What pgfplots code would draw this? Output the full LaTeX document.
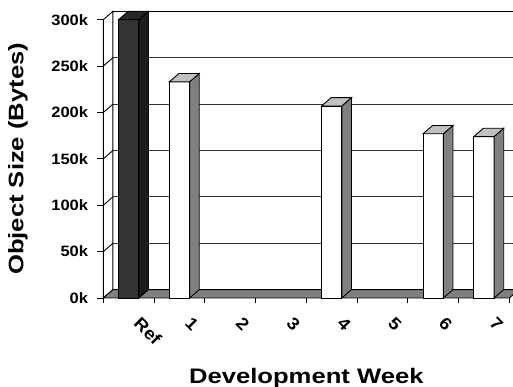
\documentclass[border=0pt]{standalone}
\usepackage{fontspec}
\usepackage{pgfplots}
\usepackage{pgfplotstable}
\pgfplotsset{compat=1.18}

\newfontfamily\tickfont{Liberation Sans}[FakeStretch=1.1]
\newfontfamily\titlefont{Liberation Sans}[FakeStretch=1.22]

\definecolor{refFront}{HTML}{333333}
\definecolor{refSide}{HTML}{1C1C1C}
\definecolor{refTop}{HTML}{262626}
\definecolor{barSide}{HTML}{808080}
\definecolor{barTop}{HTML}{C0C0C0}
\definecolor{floorGray}{HTML}{808080}
\definecolor{gridGray}{HTML}{333333}

% object size per development week, in kilobytes
\pgfplotstableread{
idx week size
0   Ref  300
1   1    233
2   2    0
3   3    0
4   4    207
5   5    0
6   6    177
7   7    174
}\objsizes

% depth of the pseudo-3D box (x in category units, y in kB)
\def\depthx{0.19}
\def\depthy{9}

\begin{document}
\begin{tikzpicture}
\useasboundingbox (0,0) rectangle (513pt,387pt);
\begin{axis}[
  at={(103.3pt,89pt)}, anchor=south west,
  scale only axis, width=406pt, height=278.3pt,
  xmin=0, xmax=8, ymin=0, ymax=300,
  clip=false,
  axis line style={draw=none},
  xtick={0.5,1.5,...,7.5},
  xticklabels={Ref,1,2,3,4,5,6,7},
  minor xtick={0,1,...,8},
  ytick={0,50,...,300},
  yticklabels={0k,50k,100k,150k,200k,250k,300k},
  tick align=outside,
  xtick pos=bottom, ytick pos=left,
  major tick length=6pt, minor tick length=5pt,
  major x tick style={draw=none},
  tick style={black, line width=0.8pt},
  yticklabel style={font=\tickfont\bfseries\fontsize{15}{17}\selectfont,
    inner sep=0pt, xshift=-9pt, anchor=east},
  xticklabel style={font=\tickfont\bfseries\fontsize{17}{19}\selectfont,
    inner sep=0pt, xshift=13pt, yshift=-12pt, rotate=-45, anchor=north west},
  xlabel={Development Week},
  ylabel={Object Size (Bytes)},
  label style={font=\titlefont\bfseries\fontsize{21}{24}\selectfont},
  xlabel style={at={([yshift=-85.3pt]axis description cs:0.5,0)}, anchor=base},
  ylabel style={at={([xshift=-80pt]axis description cs:0,0.5)}, anchor=base},
]
% back wall with gridlines
\pgfplotsinvokeforeach{50,100,150,200,250}{
  \draw[gridGray, line width=0.9pt] (axis cs:0.19,#1+9) -- (axis cs:8.19,#1+9);
}
\draw[black, line width=0.9pt] (axis cs:0.19,9) -- (axis cs:0.19,309) -- (axis cs:8.19,309);
% left side wall
\draw[black, line width=0.9pt, fill=white] (axis cs:0,0) -- (axis cs:0.19,9) -- (axis cs:0.19,309) -- (axis cs:0,300) -- cycle;
\pgfplotsinvokeforeach{50,100,150,200,250}{
  \draw[black, line width=0.9pt] (axis cs:0,#1) -- (axis cs:0.19,#1+9);
}
% floor
\draw[black, line width=0.9pt, fill=floorGray] (axis cs:0,0) -- (axis cs:8,0) -- (axis cs:8.19,9) -- (axis cs:0.19,9) -- cycle;

% bars: front, side and top faces
\pgfplotsforeachungrouped \bi in {0,...,7}{%
  \pgfplotstablegetelem{\bi}{size}\of\objsizes
  \let\barval\pgfplotsretval
  \ifdim\barval pt>0pt
    \pgfmathsetmacro\xl{\bi+0.3}%
    \pgfmathsetmacro\xr{\bi+0.7}%
    \pgfmathsetmacro\xlb{\xl+\depthx}%
    \pgfmathsetmacro\xrb{\xr+\depthx}%
    \pgfmathsetmacro\vb{\barval+\depthy}%
    \ifnum\bi=0
      \def\fc{refFront}\def\sc{refSide}\def\tc{refTop}%
    \else
      \def\fc{white}\def\sc{barSide}\def\tc{barTop}%
    \fi
    \edef\barcmd{%
      \noexpand\addplot[draw=black, line width=0.9pt, line join=miter, fill=\fc]
        coordinates {(\xl,0) (\xr,0) (\xr,\barval) (\xl,\barval)} -- cycle;
      \noexpand\addplot[draw=black, line width=0.9pt, line join=miter, fill=\sc]
        coordinates {(\xr,0) (\xrb,\depthy) (\xrb,\vb) (\xr,\barval)} -- cycle;
      \noexpand\addplot[draw=black, line width=0.9pt, line join=miter, fill=\tc]
        coordinates {(\xl,\barval) (\xr,\barval) (\xrb,\vb) (\xlb,\vb)} -- cycle;
    }%
    \barcmd
  \fi
}
\end{axis}
\end{tikzpicture}
\end{document}
